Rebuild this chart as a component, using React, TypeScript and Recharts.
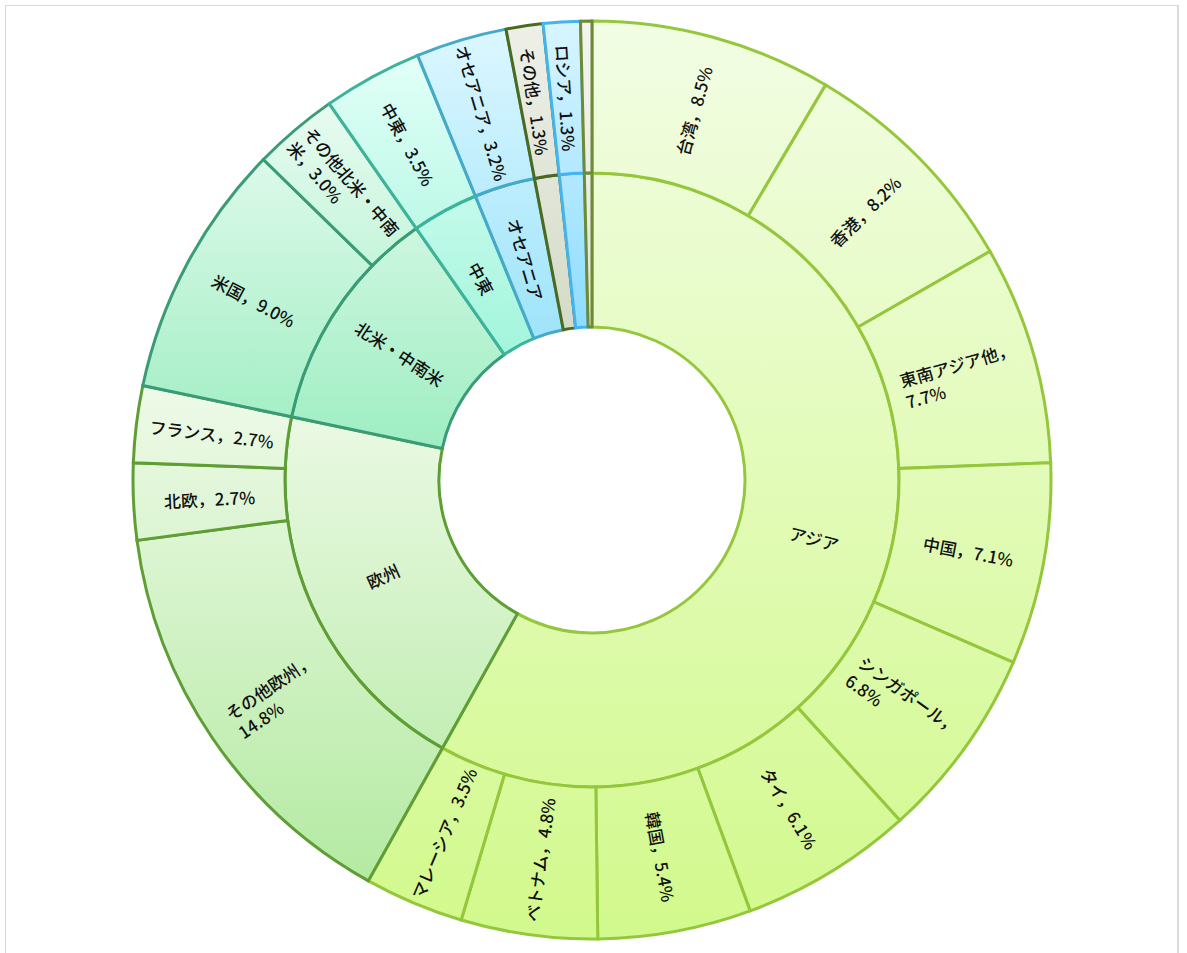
import { Cell, Pie, PieChart } from 'recharts'

// Leaf level (outer ring), clockwise from 12 o'clock
const countries = [
  '台湾', '香港', '東南アジア他', '中国', 'シンガポール', 'タイ', '韓国', 'ベトナム', 'マレーシア',
  'その他欧州', '北欧', 'フランス',
  '米国', 'その他北米・中南米',
  '中東', 'オセアニア', 'その他', 'ロシア', '不明',
]
const countryShares = [
  8.5, 8.2, 7.7, 7.1, 6.8, 6.1, 5.4, 4.8, 3.5,
  14.8, 2.7, 2.7,
  9.0, 3.0,
  3.5, 3.2, 1.3, 1.3, 0.4,
]
const countryRegion = [
  'アジア', 'アジア', 'アジア', 'アジア', 'アジア', 'アジア', 'アジア', 'アジア', 'アジア',
  '欧州', '欧州', '欧州',
  '北米・中南米', '北米・中南米',
  '中東', 'オセアニア', 'その他', 'ロシア', '不明',
]

// Region level (inner ring)
const regions = ['アジア', '欧州', '北米・中南米', '中東', 'オセアニア', 'その他', 'ロシア', '不明']

const regionStyle: Record<string, { top: string; bottom: string; stroke: string }> = {
  'アジア': { top: '#f2fde4', bottom: '#d2f98c', stroke: '#95c73c' },
  '欧州': { top: '#eefae8', bottom: '#b4eaa2', stroke: '#5e9e34' },
  '北米・中南米': { top: '#e8fbf1', bottom: '#9eeec2', stroke: '#3a9c76' },
  '中東': { top: '#e2fff8', bottom: '#a2f5dc', stroke: '#3cb49a' },
  'オセアニア': { top: '#dcf7ff', bottom: '#9ee4fa', stroke: '#45a9c9' },
  'その他': { top: '#eef0e8', bottom: '#d4dbc8', stroke: '#4b6a1f' },
  'ロシア': { top: '#d8f5ff', bottom: '#8edcff', stroke: '#45b4ee' },
  '不明': { top: '#f2f4ee', bottom: '#e2e8da', stroke: '#6d8a34' },
}

const CX = 586
const CY = 474
const R_HOLE = 153
const R_MID = 307
const R_OUT = 459
const FONT = '"Noto Sans CJK JP", "Noto Sans", sans-serif'
const FONT_SIZE = 17
const LINE_H = 22
const MAX_LABEL_W = FONT_SIZE * 8.5

const outerData = countries.map((name, i) => ({ name, value: countryShares[i], region: countryRegion[i] }))
const innerData = regions.map(name => ({
  name,
  region: name,
  value: Math.round(outerData.filter(d => d.region === name).reduce((s, d) => s + d.value, 0) * 10) / 10,
}))
const total = outerData.reduce((s, d) => s + d.value, 0)

// vertical extent of a region's wedge (both rings), used for its gradient
function regionExtent(region: string) {
  let before = 0
  let share = 0
  outerData.forEach(d => {
    if (d.region === region) share += d.value
    else if (share === 0) before += d.value
  })
  const a0 = 90 - (before / total) * 360
  const a1 = 90 - ((before + share) / total) * 360
  let yMin = Infinity
  let yMax = -Infinity
  for (let k = 0; k <= 200; k++) {
    const a = ((a0 + (a1 - a0) * (k / 200)) * Math.PI) / 180
    for (const r of [R_HOLE, R_OUT]) {
      const y = CY - r * Math.sin(a)
      yMin = Math.min(yMin, y)
      yMax = Math.max(yMax, y)
    }
  }
  return [yMin, yMax]
}

let ctx: CanvasRenderingContext2D | null = null
function textWidth(s: string) {
  if (!ctx) {
    ctx = document.createElement('canvas').getContext('2d')
    if (ctx) ctx.font = `500 ${FONT_SIZE}px ${FONT}`
  }
  return ctx ? ctx.measureText(s).width : s.length * FONT_SIZE
}

function wrapLabel(name: string, pct: string) {
  const full = `${name}，${pct}`
  if (textWidth(full) <= MAX_LABEL_W) return [full]
  if (textWidth(`${name}，`) <= MAX_LABEL_W) return [`${name}，`, pct]
  let cut = name.length
  while (cut > 1 && textWidth(name.slice(0, cut)) > MAX_LABEL_W) cut--
  return [name.slice(0, cut), `${name.slice(cut)}，${pct}`]
}

function RadialLabel({ cx, cy, midAngle, innerRadius, outerRadius, lines }: any) {
  const r = (innerRadius + outerRadius) / 2
  const rad = (-midAngle * Math.PI) / 180
  const x = cx + r * Math.cos(rad)
  const y = cy + r * Math.sin(rad)
  const a = ((midAngle % 360) + 360) % 360
  const rot = a > 90 && a < 270 ? 180 - a : -a
  const w = Math.max(...lines.map((l: string) => textWidth(l)))
  return (
    <g transform={`translate(${x},${y}) rotate(${rot})`}>
      <text fontFamily={FONT} fontSize={FONT_SIZE} fontWeight={500} fill="#111" dominantBaseline="central">
        {lines.map((l: string, i: number) => (
          <tspan key={i} x={-w / 2} y={(i - (lines.length - 1) / 2) * LINE_H}>{l}</tspan>
        ))}
      </text>
    </g>
  )
}

const renderInnerLabel = (props: any) => {
  if (props.value < 2) return null
  return <RadialLabel {...props} lines={[props.name]} />
}

const renderOuterLabel = (props: any) => {
  if (props.value < 1) return null
  return <RadialLabel {...props} lines={wrapLabel(props.name, `${props.value.toFixed(1)}%`)} />
}

export default function App() {
  return (
    <div
      style={{
        position: 'absolute', left: 5, top: 5, width: 1171, height: 948,
        border: '1px solid #d9d9d9', borderRight: '2px solid #d9d9d9', borderBottom: 'none',
        background: '#fff',
      }}
    >
      <svg width={0} height={0} style={{ position: 'absolute' }}>
        <defs>
          {regions.map((reg, i) => {
            const [y1, y2] = regionExtent(reg)
            const st = regionStyle[reg]
            return (
              <linearGradient key={reg} id={`grad-${i}`} gradientUnits="userSpaceOnUse" x1={0} x2={0} y1={y1} y2={y2}>
                <stop offset="0%" stopColor={st.top} />
                <stop offset="100%" stopColor={st.bottom} />
              </linearGradient>
            )
          })}
        </defs>
      </svg>
      <PieChart width={1170} height={946} margin={{ top: 0, right: 0, bottom: 0, left: 0 }}>
        <Pie
          data={innerData} dataKey="value" nameKey="name" cx={CX} cy={CY}
          innerRadius={R_HOLE} outerRadius={R_MID} startAngle={90} endAngle={-270}
          label={renderInnerLabel} labelLine={false} isAnimationActive={false}
        >
          {innerData.map(d => (
            <Cell key={d.name} fill={`url(#grad-${regions.indexOf(d.region)})`} stroke={regionStyle[d.region].stroke} strokeWidth={3} />
          ))}
        </Pie>
        <Pie
          data={outerData} dataKey="value" nameKey="name" cx={CX} cy={CY}
          innerRadius={R_MID} outerRadius={R_OUT} startAngle={90} endAngle={-270}
          label={renderOuterLabel} labelLine={false} isAnimationActive={false}
        >
          {outerData.map(d => (
            <Cell key={d.name} fill={`url(#grad-${regions.indexOf(d.region)})`} stroke={regionStyle[d.region].stroke} strokeWidth={3} />
          ))}
        </Pie>
      </PieChart>
    </div>
  )
}
